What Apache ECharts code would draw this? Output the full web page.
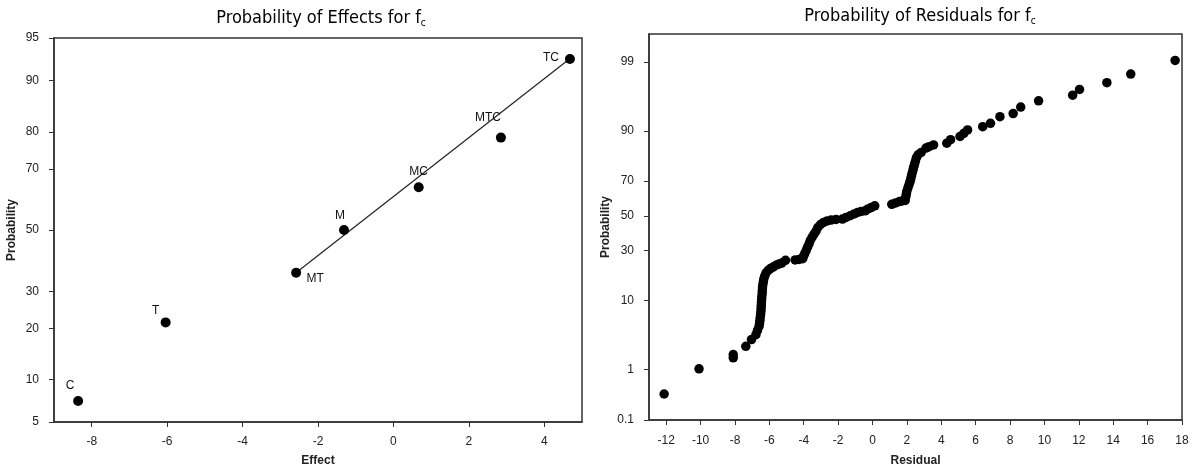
<!DOCTYPE html>
<html>
<head>
<meta charset="utf-8">
<script src="https://cdn.jsdelivr.net/npm/echarts@6/dist/echarts.min.js"></script>
<style>
html,body{margin:0;padding:0;background:#fff;}
#chart{width:1194px;height:472px;}
</style>
</head>
<body>
<div id="chart"></div>
<script>
// ---------- DATA ----------
const effectNames  = ['C', 'T', 'MT', 'M', 'MC', 'MTC', 'TC'];
const effectValues = [-8.36, -6.04, -2.58, -1.31, 0.67, 2.85, 4.68];
const effectProbs  = [7.14, 21.43, 35.71, 50.0, 64.29, 78.57, 92.86];
const fitLineEffect = [-2.55, 4.65];
const fitLineProb   = [36.0, 92.8];
const effectTicks     = [-8, -6, -4, -2, 0, 2, 4];
const effectProbTicks = [5, 10, 20, 30, 50, 70, 80, 90, 95];

const residuals = [
  -12.12, -10.09, -8.10, -8.10, -7.37, -7.04, -6.78, -6.69, -6.60, -6.57,
  -6.55, -6.53, -6.51, -6.49, -6.48, -6.47, -6.46, -6.45, -6.44, -6.42,
  -6.41, -6.40, -6.38, -6.35, -6.32, -6.27, -6.19, -6.07, -5.94, -5.78,
  -5.61, -5.43, -5.28, -5.06, -4.50, -4.27, -4.06, -4.01, -3.95, -3.86,
  -3.78, -3.69, -3.62, -3.51, -3.40, -3.28, -3.18, -3.02, -2.85, -2.64,
  -2.41, -2.12, -1.75, -1.54, -1.30, -1.07, -0.87, -0.66, -0.43, -0.26,
  -0.08, 0.13, 1.12, 1.34, 1.56, 1.72, 1.90, 1.94, 1.97, 2.00,
  2.06, 2.12, 2.17, 2.22, 2.26, 2.30, 2.35, 2.39, 2.44, 2.49,
  2.55, 2.65, 2.83, 3.11, 3.29, 3.55, 4.32, 4.54, 5.09, 5.31,
  5.53, 6.41, 6.86, 7.41, 8.18, 8.62, 9.66, 11.64, 12.04, 13.63,
  15.02, 17.60
];
const residualProbs = [
  0.35, 1.03, 1.58, 1.79, 2.41, 3.05, 3.60, 4.14, 4.70, 5.16,
  5.65, 6.18, 6.75, 7.36, 8.0, 8.69, 9.43, 10.2, 11.0, 11.9,
  12.8, 13.8, 14.8, 15.9, 17.0, 18.1, 19.4, 20.4, 21.2, 21.9,
  22.7, 23.3, 23.7, 25.0, 25.2, 25.4, 25.8, 27.1, 28.2, 29.9,
  31.7, 33.6, 35.4, 37.3, 39.1, 41.0, 43.0, 44.8, 46.0, 46.9,
  47.4, 47.8, 48.0, 49.0, 50.0, 51.1, 52.0, 52.6, 53.0, 54.1,
  54.9, 56.0, 56.9, 57.7, 58.5, 58.9, 59.2, 61.4, 63.1, 64.6,
  66.4, 68.0, 69.4, 70.9, 72.5, 73.9, 75.4, 76.8, 78.0, 79.4,
  80.9, 82.2, 83.1, 84.7, 85.2, 85.8, 86.4, 87.5, 88.5, 89.4,
  90.3, 91.1, 91.9, 93.3, 93.9, 95.0, 95.9, 96.6, 97.2, 97.8,
  98.4, 99.06
];
const residualTicks     = [-12, -10, -8, -6, -4, -2, 0, 2, 4, 6, 8, 10, 12, 14, 16, 18];
const residualProbTicks = [0.1, 1, 10, 30, 50, 70, 90, 99];

// ---------- normal probability scale (percent -> z) ----------
function probit(pct) {
  const p = pct / 100;
  const a = [-3.969683028665376e+01, 2.209460984245205e+02, -2.759285104469687e+02, 1.383577518672690e+02, -3.066479806614716e+01, 2.506628277459239e+00];
  const b = [-5.447609879822406e+01, 1.615858368580409e+02, -1.556989798598866e+02, 6.680131188771972e+01, -1.328068155288572e+01];
  const c = [-7.784894002430293e-03, -3.223964580411365e-01, -2.400758277161838e+00, -2.549732539343734e+00, 4.374664141464968e+00, 2.938163982698783e+00];
  const d = [7.784695709041462e-03, 3.224671290700398e-01, 2.445134137142996e+00, 3.754408661907416e+00];
  const pl = 0.02425, ph = 1 - pl;
  let q, r;
  if (p < pl) {
    q = Math.sqrt(-2 * Math.log(p));
    return (((((c[0]*q+c[1])*q+c[2])*q+c[3])*q+c[4])*q+c[5]) / ((((d[0]*q+d[1])*q+d[2])*q+d[3])*q+1);
  } else if (p <= ph) {
    q = p - 0.5; r = q * q;
    return (((((a[0]*r+a[1])*r+a[2])*r+a[3])*r+a[4])*r+a[5])*q / (((((b[0]*r+b[1])*r+b[2])*r+b[3])*r+b[4])*r+1);
  } else {
    q = Math.sqrt(-2 * Math.log(1 - p));
    return -(((((c[0]*q+c[1])*q+c[2])*q+c[3])*q+c[4])*q+c[5]) / ((((d[0]*q+d[1])*q+d[2])*q+d[3])*q+1);
  }
}
function tickLabel(ticks) {
  return function (v) {
    let best = ticks[0], bd = Infinity;
    ticks.forEach(t => { const dd = Math.abs(probit(t) - v); if (dd < bd) { bd = dd; best = t; } });
    return String(best);
  };
}

// ---------- label layout (style, not data) ----------
const labelOffsets = { C: [-8, -15], T: [-10, -12], MT: [19, 6], M: [-4, -14], MC: [0, -16], MTC: [-13, -20], TC: [-19, -1] };

const FONT = "'Liberation Sans', Arial, sans-serif";
const NARROW = "'Liberation Sans Narrow', 'Arial Narrow', 'DejaVu Sans Condensed', sans-serif";
const AX = '#333';

const effectData = effectNames.map((n, i) => ({
  name: n,
  value: [effectValues[i], probit(effectProbs[i])],
  label: { show: true, position: 'inside', offset: labelOffsets[n], formatter: n, color: '#111', fontSize: 12, fontFamily: FONT }
}));
const fitData = fitLineEffect.map((x, i) => [x, probit(fitLineProb[i])]);
const residualData = residuals.map((r, i) => [r, probit(residualProbs[i])]);

function titleText(main) {
  return { text: '{a|' + main + '}{b|c}', textStyle: { fontWeight: 'normal', rich: {
    a: { fontSize: 18, fontFamily: NARROW, fontWeight: 'normal', color: '#000' },
    b: { fontSize: 10, fontFamily: NARROW, fontWeight: 'normal', color: '#000', padding: [10, 0, 0, 0] }
  } } };
}

const chart = echarts.init(document.getElementById('chart'), null, { renderer: 'canvas' });
chart.setOption({
  animation: false,
  backgroundColor: '#fff',
  title: [
    Object.assign({ left: 316, top: 3, textAlign: 'center' }, titleText('Probability of Effects for f')),
    Object.assign({ left: 915, top: 1, textAlign: 'center' }, titleText('Probability of Residuals for f'))
  ],
  grid: [
    { left: 54, right: 612, top: 38, bottom: 45, show: true, borderColor: AX, borderWidth: 1.5, containLabel: false },
    { left: 649, right: 12, top: 34, bottom: 47, show: true, borderColor: AX, borderWidth: 1.5, containLabel: false }
  ],
  xAxis: [
    {
      gridIndex: 0, type: 'value', min: -9, max: 5,
      name: 'Effect', nameLocation: 'middle', nameGap: 33,
      nameTextStyle: { fontWeight: 'bold', fontSize: 12, fontFamily: FONT, color: '#222' },
      axisLine: { show: true, onZero: false, lineStyle: { color: AX, width: 1.5 } },
      axisTick: { show: true, length: 5, customValues: effectTicks, lineStyle: { color: AX } },
      axisLabel: { customValues: effectTicks, margin: 14, fontSize: 12, fontFamily: FONT, color: '#222' },
      splitLine: { show: false }
    },
    {
      gridIndex: 1, type: 'value', min: -13, max: 18,
      name: 'Residual', nameLocation: 'middle', nameGap: 35,
      nameTextStyle: { fontWeight: 'bold', fontSize: 12, fontFamily: FONT, color: '#222' },
      axisLine: { show: true, onZero: false, lineStyle: { color: AX, width: 1.5 } },
      axisTick: { show: true, length: 5, customValues: residualTicks, lineStyle: { color: AX } },
      axisLabel: { customValues: residualTicks, margin: 15, fontSize: 12, fontFamily: FONT, color: '#222' },
      splitLine: { show: false }
    }
  ],
  yAxis: [
    {
      gridIndex: 0, type: 'value', min: probit(5), max: probit(95),
      name: 'Probability', nameLocation: 'middle', nameGap: 36, nameRotate: 90,
      nameTextStyle: { fontWeight: 'bold', fontSize: 12, fontFamily: FONT, color: '#222' },
      axisLine: { show: true, onZero: false, lineStyle: { color: AX, width: 1.5 } },
      axisTick: { show: true, length: 5, customValues: effectProbTicks.map(probit), lineStyle: { color: AX } },
      axisLabel: { customValues: effectProbTicks.map(probit), formatter: tickLabel(effectProbTicks), margin: 15, fontSize: 12, fontFamily: FONT, color: '#222' },
      splitLine: { show: false }
    },
    {
      gridIndex: 1, type: 'value', min: probit(0.1), max: 2.75,
      name: 'Probability', nameLocation: 'middle', nameGap: 37, nameRotate: 90,
      nameTextStyle: { fontWeight: 'bold', fontSize: 12, fontFamily: FONT, color: '#222' },
      axisLine: { show: true, onZero: false, lineStyle: { color: AX, width: 1.5 } },
      axisTick: { show: true, length: 5, customValues: residualProbTicks.map(probit), lineStyle: { color: AX } },
      axisLabel: { customValues: residualProbTicks.map(probit), formatter: tickLabel(residualProbTicks), margin: 15, fontSize: 12, fontFamily: FONT, color: '#222' },
      splitLine: { show: false }
    }
  ],
  series: [
    {
      type: 'line', xAxisIndex: 0, yAxisIndex: 0, data: fitData,
      symbol: 'none', lineStyle: { color: '#222', width: 1.2 }, z: 2, silent: true
    },
    {
      type: 'scatter', xAxisIndex: 0, yAxisIndex: 0, data: effectData,
      symbol: 'circle', symbolSize: 10, itemStyle: { color: '#000', opacity: 1 }, z: 3
    },
    {
      type: 'scatter', xAxisIndex: 1, yAxisIndex: 1, data: residualData,
      symbol: 'circle', symbolSize: 9.5, itemStyle: { color: '#000', opacity: 1 }, z: 3
    }
  ]
});
</script>
</body>
</html>
